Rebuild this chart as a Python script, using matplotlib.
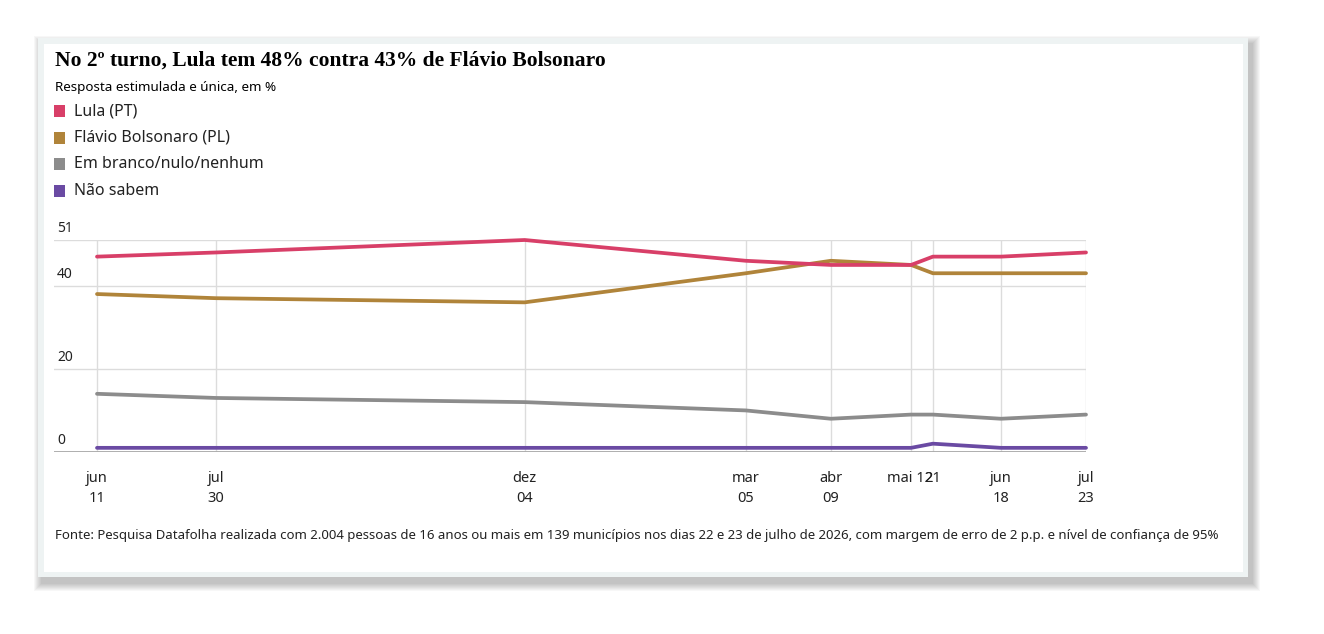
import numpy as np
import pandas as pd
import matplotlib
matplotlib.use("Agg")
import matplotlib.pyplot as plt
import matplotlib.dates as mdates
from matplotlib.patches import Rectangle

W, H = 1324, 634

# dados (Datafolha, 2º turno)
datas = pd.to_datetime(["2025-06-11", "2025-07-30", "2025-12-04", "2026-03-05",
                        "2026-04-09", "2026-05-12", "2026-05-21", "2026-06-18",
                        "2026-07-23"])
rotulo_mes = ["jun", "jul", "dez", "mar", "abr", "mai 12", "21", "jun", "jul"]
rotulo_dia = ["11", "30", "04", "05", "09", "", "", "18", "23"]

lula = [47, 48, 51, 46, 45, 45, 47, 47, 48]
flavio = [38, 37, 36, 43, 46, 45, 43, 43, 43]
branco = [14, 13, 12, 10, 8, 9, 9, 8, 9]
nao_sabem = [1, 1, 1, 1, 1, 1, 2, 1, 1]

series = [("Lula (PT)", lula, "#d83f68"),
          ("Flávio Bolsonaro (PL)", flavio, "#b0843a"),
          ("Em branco/nulo/nenhum", branco, "#8c8c8c"),
          ("Não sabem", nao_sabem, "#6a4aa3")]
y_ticks = [0, 20, 40, 51]

TITULO = "No 2º turno, Lula tem 48% contra 43% de Flávio Bolsonaro"
SUBTITULO = "Resposta estimulada e única, em %"
FONTE = ("Fonte: Pesquisa Datafolha realizada com 2.004 pessoas de 16 anos ou mais em 139 "
         "municípios nos dias 22 e 23 de julho de 2026, com margem de erro de 2 p.p. e "
         "nível de confiança de 95%")

SANS = ["Noto Sans", "DejaVu Sans"]


def fx(x):
    return x / W


def fy(y):
    return 1 - y / H


fig = plt.figure(figsize=(W / 100, H / 100), dpi=100)
fig.patch.set_facecolor("white")
renderer = fig.canvas.get_renderer()


def largura(s, **kw):
    t = fig.text(0, 0, s, **kw)
    w = t.get_window_extent(renderer).width
    t.remove()
    return w


# cartão com sombra (mais forte embaixo e à direita)
cx0, cy0, cx1, cy1 = 38, 38, 1248, 577
for i in range(8, 0, -1):
    fig.patches.append(Rectangle((fx(cx0 + 4 - i), fy(cy1 + 6 + i)),
                                 (cx1 - cx0 + 2 * i) / W, (cy1 - cy0 + 2 * i) / H,
                                 transform=fig.transFigure, facecolor="#000000",
                                 alpha=0.03, lw=0, zorder=0))
fig.patches.append(Rectangle((fx(cx0), fy(cy1)), (cx1 - cx0) / W, (cy1 - cy0) / H,
                             transform=fig.transFigure, facecolor="#eef3f3", lw=0, zorder=1))
fig.patches.append(Rectangle((fx(cx0 + 6), fy(cy1 - 5)), (cx1 - cx0 - 11) / W,
                             (cy1 - cy0 - 11) / H, transform=fig.transFigure,
                             facecolor="white", lw=0, zorder=1))

# textos de cabeçalho
fig.text(fx(55), fy(61), TITULO, fontsize=15.5, weight="bold",
         family=["Liberation Serif", "DejaVu Serif"], va="center", ha="left")
fig.text(fx(55), fy(88), SUBTITULO, fontsize=9.7, weight="bold", family=SANS,
         va="center", ha="left")

# legenda
for k, (nome, _, cor) in enumerate(series):
    yc = 111 + k * 26.7
    fig.patches.append(Rectangle((fx(54), fy(yc + 6)), 11 / W, 12 / H,
                                 transform=fig.transFigure, facecolor=cor, lw=0, zorder=3))
    fig.text(fx(74), fy(yc), nome, fontsize=11.5, family=SANS, va="center",
             ha="left", color="#222222")

# eixo
ax = fig.add_axes([fx(54), fy(452), (1086 - 54) / W, (452 - 240) / H])
ax.set_zorder(5)
ax.set_facecolor("none")
xn = mdates.date2num(datas)
escala = (1086 - 97) / (xn[-1] - xn[0])
ax.set_xlim(xn[0] - (97 - 54) / escala, xn[-1])
ax.set_ylim(0, 51)
for s in ax.spines.values():
    s.set_visible(False)
ax.set_xticks([])
ax.set_yticks([])

ax.vlines(xn, 0, 51, color="#dcdcdc", lw=1, zorder=1)
for v in y_ticks[1:]:
    ax.axhline(v, color="#dcdcdc", lw=1, zorder=1)
ax.axhline(0, color="#a8a8a8", lw=1.3, zorder=1)

for nome, vals, cor in series[::-1]:
    ax.plot(xn, vals, color=cor, lw=2.7, solid_capstyle="round", zorder=3, clip_on=False)

ytr = ax.get_yaxis_transform()
for v in y_ticks:
    ax.annotate(str(v), xy=(0.003, v), xycoords=ytr, xytext=(0, 4),
                textcoords="offset pixels", va="bottom", ha="left",
                fontsize=10, family=SANS, color="#222222")

# rótulos do eixo x; "mai 12" e "21" se sobrepõem como no original ("mai 121")
tk = dict(fontsize=10.5, family=SANS, color="#222222")
w21 = largura("21", **tk)
w2 = largura("2", **tk)
xtr = ax.get_xaxis_transform()
for i, (x, m, d) in enumerate(zip(xn, rotulo_mes, rotulo_dia)):
    if m == "mai 12":
        ax.annotate(m, xy=(xn[i + 1], 0), xycoords=xtr, xytext=(-w21 / 2 + w2, -27),
                    textcoords="offset pixels", va="center", ha="right", **tk)
    else:
        ax.annotate(m, xy=(x, 0), xycoords=xtr, xytext=(0, -27), textcoords="offset pixels",
                    va="center", ha="center", **tk)
    if d:
        ax.annotate(d, xy=(x, 0), xycoords=xtr, xytext=(0, -47),
                    textcoords="offset pixels", va="center", ha="center", **tk)

fig.text(fx(55), fy(535), FONTE, fontsize=9.5, family=SANS, va="center", ha="left",
         color="#222222")

fig.savefig("out.png", dpi=100)
